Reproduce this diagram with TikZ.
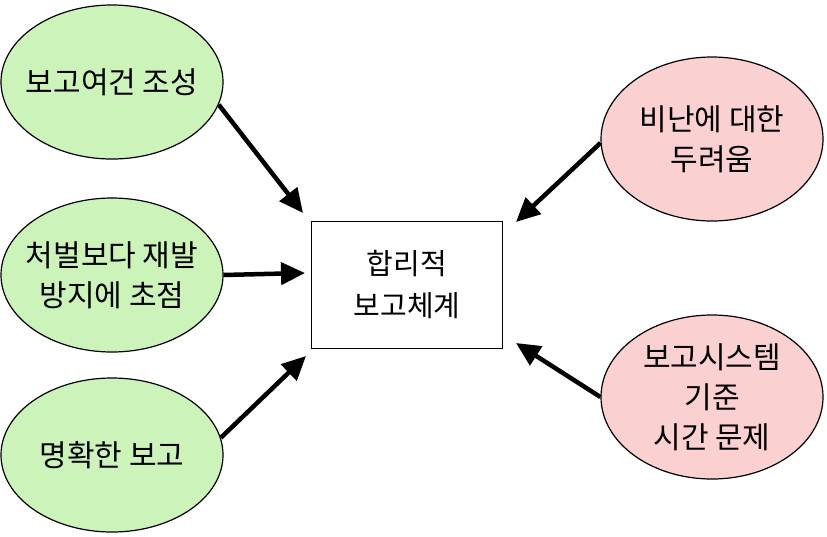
\documentclass[tikz,border=0pt]{standalone}
\usepackage{fontspec}
\setmainfont{Noto Sans CJK KR}
\usepackage{xcolor}
\usepackage{tikz}
\usetikzlibrary{shapes.geometric,arrows.meta}
\definecolor{helpcolor}{RGB}{204,244,186}
\definecolor{hindercolor}{RGB}{250,208,208}

\begin{document}
\begin{tikzpicture}[
    x=1pt, y=-1pt,
    factor/.style={ellipse, draw, line width=1.2pt,
                   minimum width=222pt, minimum height=154pt,
                   inner xsep=-14pt, inner ysep=0pt, align=center,
                   font=\fontsize{30}{40}\selectfont},
    helper/.style={factor, fill=helpcolor},
    barrier/.style={factor, fill=hindercolor, minimum height=164pt},
    core/.style={rectangle, draw, line width=1.2pt,
                 minimum width=191pt, minimum height=127pt,
                 align=center,
                 font=\fontsize{29}{42}\selectfont},
    push/.style={-{Triangle[length=24pt,width=22pt]}, line width=4.5pt}
]
\useasboundingbox (0,0) rectangle (827,536);

\node[helper] (env) at (112,82) {보고여건 조성};
\node[helper] (focus) at (112,275) {처벌보다 재발\\방지에 초점};
\node[helper] (clear) at (112,455) {명확한 보고};
\node[core] (sys) at (407,285) {합리적\\보고체계};
\node[barrier] (fear) at (712,139) {비난에 대한\\두려움};
\node[barrier] (time) at (712,397) {보고시스템\\기준\\시간 문제};

\coordinate (t1) at (303,213);
\coordinate (t2) at (305,273);
\coordinate (t3) at (306,356);
\coordinate (t4) at (516,222);
\coordinate (t5) at (516,343);

\draw[push] (env.-12) -- (t1);
\draw[push] (focus.east) -- (t2);
\draw[push] (clear.9) -- (t3);
\draw[push] (fear.182) -- (t4);
\draw[push] (time.west) -- (t5);
\end{tikzpicture}
\end{document}
